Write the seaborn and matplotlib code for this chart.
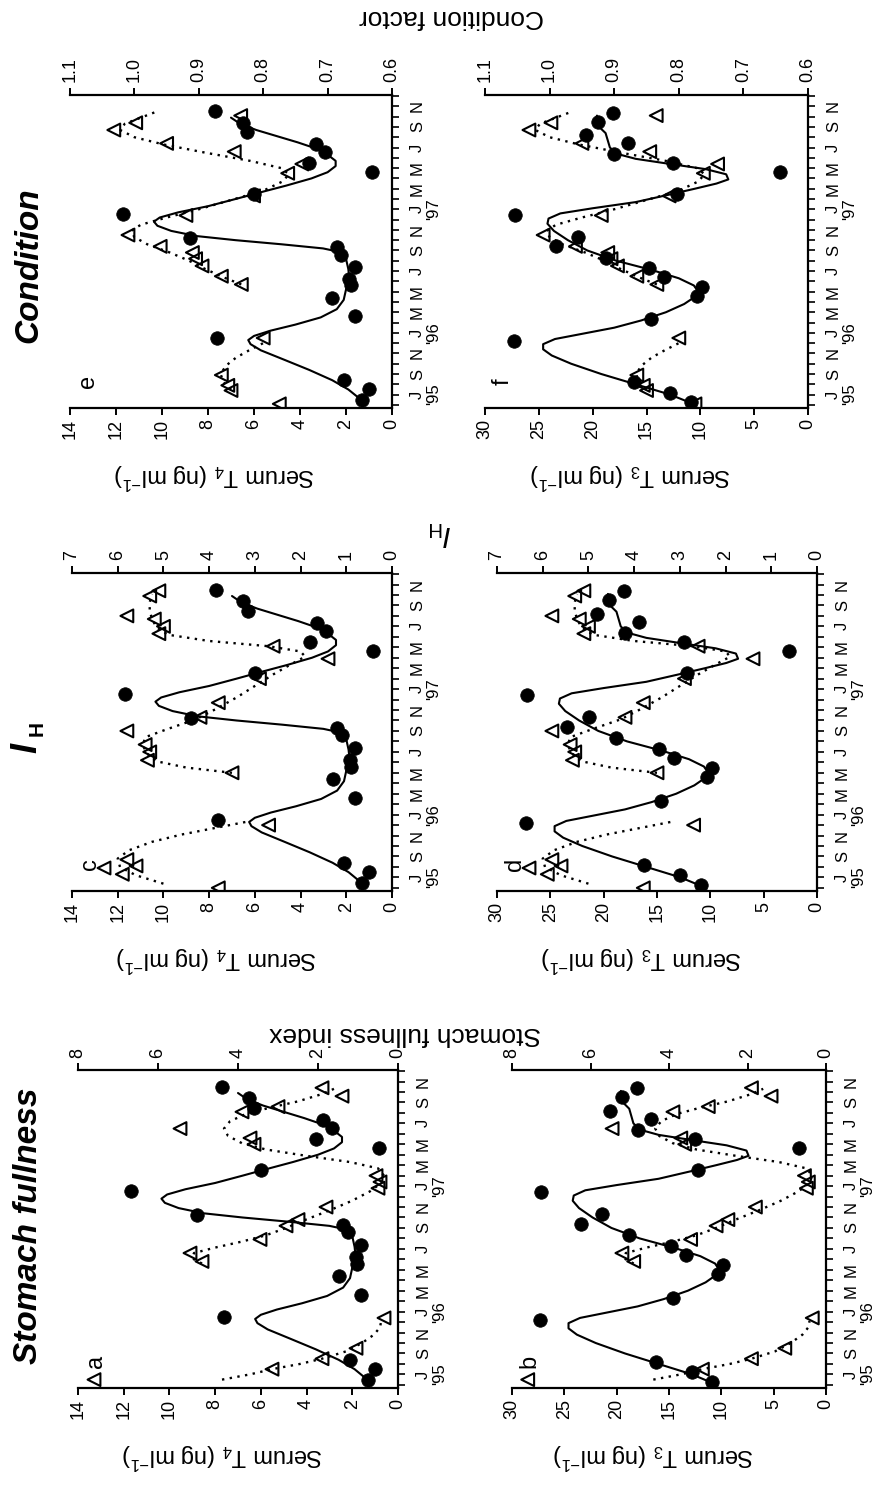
import matplotlib
matplotlib.use("Agg")
import matplotlib.pyplot as plt
import seaborn as sns
from matplotlib.ticker import MultipleLocator

# ---------------- data (time = months since Jan 1995; Jul '95 = 6) ----------------
month_ticks = [6, 8, 10, 12, 14, 16, 18, 20, 22, 24, 26, 28, 30, 32, 34]
month_labels = ["J\n'95", "S", "N", "J\n'96", "M", "M", "J", "S", "N",
                "J\n'97", "M", "M", "J", "S", "N"]

# Serum T4 (filled circles) and fitted curve
t4_time = [5.5, 6.5, 7.4, 11.5, 13.6, 15.4, 16.6, 17.2, 18.4, 19.6, 20.3, 21.2,
           23.5, 25.5, 27.6, 28.5, 29.6, 30.3, 31.5, 32.4, 33.5]
t4_value = [1.3, 1.0, 2.1, 7.6, 1.6, 2.6, 1.8, 1.85, 1.6, 2.2, 2.4, 8.8,
            11.7, 6.0, 0.85, 3.6, 2.9, 3.3, 6.3, 6.5, 7.7]
t4_fit_time = [5.6, 6.5, 7.4, 8.4, 9.4, 10.3, 10.9, 11.3, 11.7, 12.2, 12.8, 13.5,
               14.3, 15.2, 16.2, 17.2, 18.2, 19.2, 19.8, 20.2, 20.6, 21.0, 21.4,
               21.9, 22.4, 22.8, 23.2, 23.7, 24.3, 25.0, 25.6, 26.3, 27.0, 27.6,
               28.2, 28.7, 29.3, 29.9, 30.5, 31.1, 31.7, 32.3, 32.9]
t4_fit_value = [1.4, 1.9, 2.6, 3.6, 4.7, 5.7, 6.15, 6.25, 6.0, 5.3, 4.2, 3.1,
                2.4, 2.1, 2.0, 1.85, 1.9, 2.0, 2.15, 3.0, 4.8, 6.8, 8.5,
                9.6, 10.2, 10.35, 10.1, 9.3, 8.0, 6.8, 5.8, 4.6, 3.5, 2.8,
                2.45, 2.45, 2.8, 3.3, 4.1, 5.0, 5.9, 6.6, 7.0]

# Serum T3 (filled circles) and fitted curve
t3_time = [5.3, 6.2, 7.2, 11.2, 13.3, 15.6, 16.5, 17.4, 18.3, 19.3, 20.4, 21.3,
           23.4, 25.5, 27.6, 28.5, 29.4, 30.4, 31.2, 32.5, 33.4]
t3_value = [10.9, 12.8, 16.2, 27.3, 14.6, 10.3, 9.8, 13.4, 14.8, 18.8, 23.4, 21.4,
            27.2, 12.2, 2.6, 12.5, 18.0, 16.7, 20.6, 19.5, 18.1]
t3_fit_time = [5.2, 6.0, 7.0, 8.0, 9.0, 9.8, 10.4, 10.9, 11.4, 11.9, 12.5, 13.2,
               14.0, 14.8, 15.5, 16.0, 16.6, 17.3, 18.1, 19.0, 20.0, 21.0, 21.9,
               22.6, 23.1, 23.6, 24.1, 24.7, 25.4, 26.0, 26.5, 26.9, 27.4, 27.9,
               28.4, 28.9, 29.4, 30.0, 30.7, 31.4, 32.0, 32.6, 33.1]
t3_fit_value = [10.9, 12.8, 16.0, 19.2, 22.0, 23.8, 24.6, 24.6, 23.5, 21.0, 18.0, 15.5,
                13.2, 11.5, 10.5, 10.2, 10.6, 12.0, 14.5, 17.8, 20.5, 22.3, 23.6,
                24.2, 24.1, 23.0, 20.0, 16.0, 13.0, 10.5, 8.5, 7.4, 7.6, 9.5,
                12.8, 16.0, 17.8, 18.4, 18.6, 18.8, 19.4, 19.8, 19.6]

# Stomach fullness index (open triangles) and dotted fit
sf_time = [5.5, 6.5, 7.5, 8.5, 11.4, 16.8, 17.6, 18.9, 20.2, 20.8, 22.0, 23.8,
           24.4, 25.0, 28.0, 28.6, 29.5, 31.1, 31.6, 32.6, 33.4]
sf_value = [7.6, 3.15, 1.9, 1.05, 0.35, 4.9, 5.2, 3.45, 2.8, 2.5, 1.8, 0.5,
            0.45, 0.55, 3.6, 3.7, 5.45, 3.9, 3.0, 1.4, 1.9]
sf_fit1_time = [5.5, 6.0, 6.5, 7.0, 7.5, 8.2, 9.0, 9.8, 10.5, 11.1]
sf_fit1_value = [4.4, 3.7, 3.15, 2.45, 1.9, 1.3, 0.9, 0.6, 0.45, 0.42]
sf_fit2_time = [16.6, 17.1, 17.6, 18.1, 18.7, 19.3, 20.0, 20.8, 21.7, 22.6, 23.5,
                24.3, 25.0, 25.7, 26.3, 26.9, 27.5, 28.1, 28.8, 29.5, 30.2, 30.9,
                31.5, 32.1, 32.8, 33.3]
sf_fit2_value = [4.9, 5.15, 5.1, 4.6, 3.9, 3.3, 2.8, 2.3, 1.7, 1.15, 0.7,
                 0.42, 0.35, 0.5, 1.2, 2.3, 3.3, 3.9, 4.25, 4.35, 4.2, 3.8,
                 3.2, 2.5, 1.9, 1.6]

# Hepatosomatic index I_H (open triangles) and dotted fit
ih_time = [5.0, 6.3, 6.9, 7.1, 7.7, 11.0, 16.0, 17.2, 18.0, 18.7, 20.0, 21.3,
           22.7, 25.0, 26.9, 28.1, 29.3, 30.0, 30.7, 31.0, 32.9, 33.4]
ih_value = [3.8, 5.9, 6.3, 5.6, 5.8, 2.7, 3.5, 5.35, 5.3, 5.4, 5.8, 4.2,
            3.8, 2.9, 1.4, 2.6, 5.1, 5.0, 5.2, 5.8, 5.3, 5.1]
ih_fit1_time = [5.4, 6.2, 7.0, 7.8, 8.6, 9.4, 10.1, 10.7, 11.3]
ih_fit1_value = [5.0, 5.6, 5.95, 6.0, 5.75, 5.25, 4.6, 3.9, 3.2]
ih_fit2_time = [16.0, 16.5, 17.1, 17.8, 18.6, 19.4, 20.2, 21.1, 22.1, 23.2, 24.3,
                25.4, 26.4, 27.1, 27.6, 28.1, 28.6, 29.2, 29.9, 30.7, 31.5, 32.3, 33.1]
ih_fit2_value = [3.5, 4.5, 5.15, 5.35, 5.45, 5.4, 4.9, 4.3, 3.85, 3.4, 3.0,
                 2.6, 2.2, 1.9, 2.0, 2.7, 4.0, 4.9, 5.15, 5.25, 5.3, 5.3, 5.25]

# Condition factor (open triangles) and dotted fit
cf_time = [5.1, 6.4, 6.9, 7.9, 11.5, 16.7, 17.5, 18.5, 19.2, 19.8, 20.4, 21.5,
           23.4, 25.3, 27.5, 28.4, 29.6, 30.4, 31.7, 32.4, 33.1]
cf_value = [0.775, 0.85, 0.855, 0.865, 0.80, 0.834, 0.865, 0.895, 0.905, 0.91, 0.96, 1.01,
            0.92, 0.815, 0.762, 0.74, 0.845, 0.95, 1.032, 0.998, 0.835]
cf_fit1_time = [6.5, 7.2, 8.0, 8.8, 9.6, 10.3, 11.0]
cf_fit1_value = [0.85, 0.862, 0.866, 0.858, 0.842, 0.822, 0.80]
cf_fit2_time = [16.7, 17.4, 18.2, 19.0, 19.8, 20.6, 21.3, 21.9, 22.5, 23.2, 24.0, 24.9,
                25.8, 26.7, 27.4, 28.0, 28.7, 29.5, 30.3, 31.0, 31.7, 32.3, 32.9, 33.5]
cf_fit2_value = [0.834, 0.862, 0.89, 0.915, 0.945, 0.98, 1.0, 1.005, 0.99, 0.95, 0.9, 0.85,
                 0.8, 0.77, 0.76, 0.772, 0.82, 0.89, 0.955, 1.0, 1.022, 1.015, 0.99, 0.965]

t4_ticks = [0, 2, 4, 6, 8, 10, 12, 14]
t3_ticks = [0, 5, 10, 15, 20, 25, 30]
sf_ticks = [0, 2, 4, 6, 8]
ih_ticks = [0, 1, 2, 3, 4, 5, 6, 7]
cf_ticks = [0.6, 0.7, 0.8, 0.9, 1.0, 1.1]

# ---------------- style ----------------
sns.set_theme(style="white")
plt.rcParams.update({
    "font.family": ["Liberation Sans", "DejaVu Sans"],
    "mathtext.fontset": "custom",
    "mathtext.rm": "Liberation Sans",
    "mathtext.it": "Liberation Sans:italic",
    "mathtext.bf": "Liberation Sans:bold",
    "axes.edgecolor": "black",
    "text.color": "black",
    "axes.labelcolor": "black",
    "xtick.color": "black",
    "ytick.color": "black",
})

W, H = 883, 1489
fig = plt.figure(figsize=(W / 100, H / 100), dpi=100)


def box(x0, y0, x1, y1):
    return [x0 / W, 1 - y1 / H, (x1 - x0) / W, (y1 - y0) / H]


hormones = {
    "T4": dict(t=t4_time, v=t4_value, ft=t4_fit_time, fv=t4_fit_value,
               lim=(14, 0), ticks=t4_ticks, fmt="{:d}",
               label="Serum T$_4$ (ng ml$^{-1}$)"),
    "T3": dict(t=t3_time, v=t3_value, ft=t3_fit_time, fv=t3_fit_value,
               lim=(30, 0), ticks=t3_ticks, fmt="{:d}",
               label="Serum T$_3$ (ng ml$^{-1}$)"),
}
secondary = {
    "sf": dict(t=sf_time, v=sf_value,
               segs=[(sf_fit1_time, sf_fit1_value), (sf_fit2_time, sf_fit2_value)],
               lim=(8, 0), ticks=sf_ticks, fmt="{:d}"),
    "ih": dict(t=ih_time, v=ih_value,
               segs=[(ih_fit1_time, ih_fit1_value), (ih_fit2_time, ih_fit2_value)],
               lim=(7, 0), ticks=ih_ticks, fmt="{:d}"),
    "cf": dict(t=cf_time, v=cf_value,
               segs=[(cf_fit1_time, cf_fit1_value), (cf_fit2_time, cf_fit2_value)],
               lim=(1.1, 0.6), ticks=cf_ticks, fmt="{:.1f}"),
}

panels = [
    ("e", "T4", "cf", (70, 95, 392, 408)),
    ("f", "T3", "cf", (485, 95, 808, 408)),
    ("c", "T4", "ih", (72, 573, 392, 891)),
    ("d", "T3", "ih", (497, 573, 817, 891)),
    ("a", "T4", "sf", (78, 1070, 398, 1388)),
    ("b", "T3", "sf", (512, 1070, 826, 1388)),
]

dotted = (0, (1, 2.3))

for letter, hk, sk, bx in panels:
    hcfg = hormones[hk]
    scfg = secondary[sk]
    ax = fig.add_axes(box(*bx))
    ax2 = ax.twiny()

    # hormone: fitted curve + points
    sns.lineplot(x=hcfg["fv"], y=hcfg["ft"], sort=False, estimator=None,
                 color="black", linewidth=1.5, ax=ax)
    sns.scatterplot(x=hcfg["v"], y=hcfg["t"], color="black", edgecolor="black",
                    s=95, linewidth=0.5, ax=ax, zorder=3)

    # secondary variable: dotted fit + open triangles
    for st, sv in scfg["segs"]:
        sns.lineplot(x=sv, y=st, sort=False, estimator=None, color="black",
                     linewidth=1.7, linestyle=dotted, ax=ax2)
    sns.scatterplot(x=scfg["v"], y=scfg["t"], marker="<", s=85,
                    facecolor="none", edgecolor="black", linewidth=1.5, ax=ax2)

    ax.set_xlim(*hcfg["lim"])
    ax.set_ylim(4.7, 35.1)
    ax2.set_xlim(*scfg["lim"])

    for s in ["left", "top"]:
        ax.spines[s].set_visible(False)
    for s in ["left", "right", "bottom"]:
        ax2.spines[s].set_visible(False)
    for s in ["right", "bottom"]:
        ax.spines[s].set_linewidth(1.6)
        ax.spines[s].set_color("black")
    ax2.spines["top"].set_linewidth(1.6)
    ax2.spines["top"].set_color("black")

    # bottom axis (hormone)
    ax.set_xticks(hcfg["ticks"])
    ax.set_xticklabels([hcfg["fmt"].format(v) for v in hcfg["ticks"]])
    ax.tick_params(axis="x", which="major", direction="out", length=5, width=1.4,
                   pad=3, labelsize=13, labelrotation=90, bottom=True, top=False)

    # right axis (time)
    ax.yaxis.tick_right()
    ax.set_yticks(month_ticks)
    ax.set_yticklabels(month_labels)
    ax.yaxis.set_minor_locator(MultipleLocator(1))
    ax.tick_params(axis="y", which="both", direction="out", length=5, width=1.2,
                   right=True, left=False, labelright=True, labelleft=False,
                   labelsize=12, pad=8)
    plt.setp(ax.get_yticklabels(), rotation=90, va="center", ha="left",
             multialignment="center", linespacing=1.1)
    ax.set_ylabel("")

    # top axis (secondary)
    ax2.set_xticks(scfg["ticks"])
    ax2.set_xticklabels([scfg["fmt"].format(v) for v in scfg["ticks"]])
    ax2.tick_params(axis="x", which="major", direction="out", length=5, width=1.4,
                    pad=4, labelsize=13, labelrotation=90, top=True, bottom=False,
                    labeltop=True, labelbottom=False)
    ax2.set_xlabel("")

    ax.set_xlabel(hcfg["label"], fontsize=17, rotation=180)
    hpx = bx[3] - bx[1]
    ax.xaxis.set_label_coords(0.45, -68 / hpx)
    ax.xaxis.label.set_va("center")

    ax.text(0.055, 0.085, letter, transform=ax.transAxes, rotation=90,
            fontsize=17, ha="center", va="center")

# ---------------- titles and shared labels ----------------
title_kw = dict(rotation=90, fontsize=24, fontweight="bold", fontstyle="italic",
                ha="center", va="center")
fig.text(29 / W, 1 - 265 / H, "Condition", **title_kw)
fig.text(27 / W, 1 - 748 / H, "I", **{**title_kw, "fontsize": 26})
fig.text(37 / W, 1 - 729 / H, "H", rotation=90, fontsize=15, fontweight="bold",
         ha="center", va="center")
fig.text(29 / W, 1 - 1226 / H, "Stomach fullness", **title_kw)

fig.text(452 / W, 1 - 17 / H, "Condition factor", rotation=180, fontsize=19,
         ha="center", va="center")
fig.text(440 / W, 1 - 533 / H, r"$I_\mathrm{H}$", rotation=180, fontsize=21,
         ha="center", va="center")
fig.text(405 / W, 1 - 1034 / H, "Stomach fullness index", rotation=180, fontsize=19,
         ha="center", va="center")

fig.savefig("out.png", dpi=100)
